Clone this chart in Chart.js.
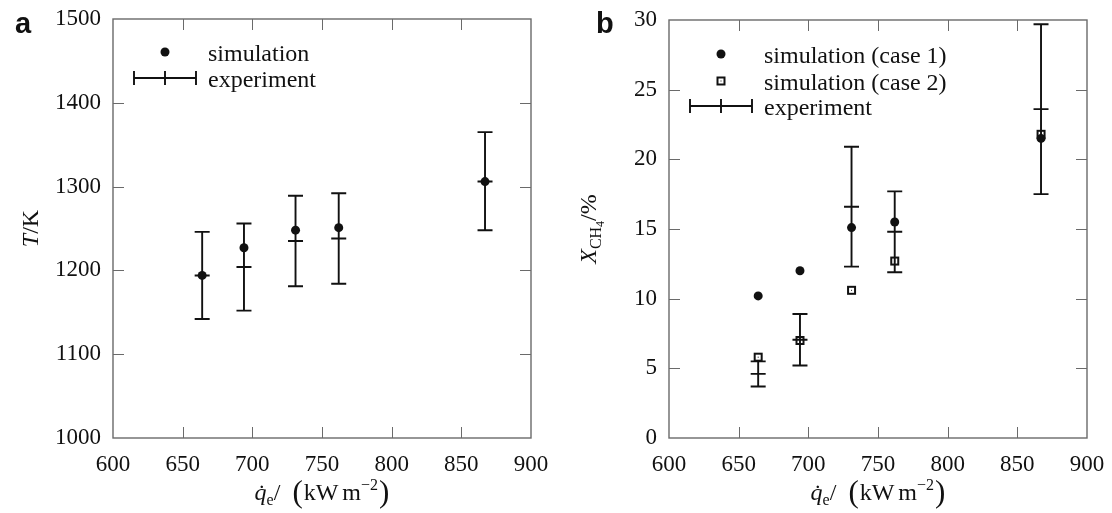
<!DOCTYPE html>
<html>
<head>
<meta charset="utf-8">
<script src="https://cdn.jsdelivr.net/npm/chart.js@4.4.1/dist/chart.umd.min.js"></script>
<style>
  html, body { margin: 0; padding: 0; background: #fff; }
  #wrap { position: relative; width: 1112px; height: 513px; }
  .panel { position: absolute; top: 0; width: 556px; height: 513px; }
  #pa { left: 0; }
  #pb { left: 556px; }
</style>
</head>
<body>
<div id="wrap">
  <div class="panel" id="pa"><canvas id="chartA"></canvas></div>
  <div class="panel" id="pb"><canvas id="chartB"></canvas></div>
</div>
<script>
// heat flux of the five operating points, kW/m2
const heatFlux = [664, 694, 731, 762, 867];

// panel a: temperature, K
const simTemp = [1194, 1227, 1248, 1251, 1306];
const expTemp = [1194, 1204, 1235, 1238, 1306];
const expTempLow = [1142, 1152, 1181, 1184, 1248];
const expTempHigh = [1246, 1256, 1289, 1292, 1365];

// panel b: methane conversion, %
const simCase1 = [10.2, 12.0, 15.1, 15.5, 21.5];
const simCase2 = [5.8, 7.0, 10.6, 12.7, 21.8];
const expConv = [4.6, 7.05, 16.6, 14.8, 23.6];
const expConvLow = [3.7, 5.2, 12.3, 11.9, 17.5];
const expConvHigh = [5.5, 8.9, 20.9, 17.7, 29.7];

const xTicks = [600, 650, 700, 750, 800, 850, 900];

const SERIF = "'Liberation Serif', 'DejaVu Serif', serif";
const INK = '#111';
const FRAME = '#6a6a6a';

// hollow square with a small centre dot, used as point style
function squareMarker() {
  const c = document.createElement('canvas');
  c.width = 11; c.height = 11;
  const g = c.getContext('2d');
  g.fillStyle = INK;
  g.fillRect(1, 1, 9, 9);
  g.clearRect(2.6, 2.6, 5.8, 5.8);
  g.fillRect(5, 5, 1, 1);
  return c;
}
const squareImg = squareMarker();

// draws text pieces one after another (subscripts etc.)
function richWidth(ctx, parts) {
  let w = 0;
  parts.forEach(p => { ctx.font = p.font; w += ctx.measureText(p.t).width + (p.gap || 0); });
  return w;
}
function drawRich(ctx, parts, x, y) {
  let cx = x - richWidth(ctx, parts) / 2;
  parts.forEach(p => {
    ctx.font = p.font;
    ctx.fillText(p.t, cx, y + (p.dy || 0));
    cx += ctx.measureText(p.t).width + (p.gap || 0);
  });
}

function errorBar(ctx, x, yLow, yMid, yHigh, cap) {
  ctx.beginPath();
  ctx.moveTo(x, yLow); ctx.lineTo(x, yHigh);
  ctx.moveTo(x - cap, yLow); ctx.lineTo(x + cap, yLow);
  ctx.moveTo(x - cap, yHigh); ctx.lineTo(x + cap, yHigh);
  ctx.moveTo(x - cap, yMid); ctx.lineTo(x + cap, yMid);
  ctx.stroke();
}

function makeDecor(cfg) {
  return {
    id: 'decor',
    beforeDatasetsDraw(chart) {
      const ctx = chart.ctx;
      const xs = chart.scales.x, ys = chart.scales.y;
      ctx.save();
      ctx.strokeStyle = INK;
      ctx.lineWidth = 1.9;
      cfg.mean.forEach((m, i) => {
        errorBar(ctx, xs.getPixelForValue(heatFlux[i]),
          ys.getPixelForValue(cfg.low[i]), ys.getPixelForValue(m),
          ys.getPixelForValue(cfg.high[i]), 7.5);
      });
      ctx.restore();
    },
    afterDraw(chart) {
      const ctx = chart.ctx;
      const a = chart.chartArea;
      const xs = chart.scales.x, ys = chart.scales.y;
      ctx.save();
      // frame with inward ticks
      ctx.strokeStyle = FRAME;
      ctx.lineWidth = 1.4;
      ctx.strokeRect(a.left, a.top, a.right - a.left, a.bottom - a.top);
      ctx.lineWidth = 1;
      ctx.beginPath();
      xs.ticks.forEach(t => {
        if (t.value <= xs.min || t.value >= xs.max) return;
        const px = Math.round(xs.getPixelForValue(t.value)) + 0.5;
        ctx.moveTo(px, a.bottom); ctx.lineTo(px, a.bottom - 11);
        ctx.moveTo(px, a.top); ctx.lineTo(px, a.top + 11);
      });
      ys.ticks.forEach(t => {
        if (t.value <= ys.min || t.value >= ys.max) return;
        const py = Math.round(ys.getPixelForValue(t.value)) + 0.5;
        ctx.moveTo(a.left, py); ctx.lineTo(a.left + 11, py);
        ctx.moveTo(a.right, py); ctx.lineTo(a.right - 11, py);
      });
      ctx.stroke();

      // legend
      ctx.fillStyle = INK;
      ctx.strokeStyle = INK;
      ctx.textBaseline = 'middle';
      ctx.textAlign = 'left';
      cfg.legend.forEach(item => {
        const y = item.y;
        if (item.kind === 'circle') {
          ctx.beginPath(); ctx.arc(165, y, 4.5, 0, Math.PI * 2); ctx.fill();
        } else if (item.kind === 'square') {
          ctx.drawImage(squareImg, 159.5, y - 5.5);
        } else {
          ctx.lineWidth = 1.9;
          ctx.beginPath();
          ctx.moveTo(134, y); ctx.lineTo(196, y);
          ctx.moveTo(134, y - 7); ctx.lineTo(134, y + 7);
          ctx.moveTo(196, y - 7); ctx.lineTo(196, y + 7);
          ctx.moveTo(165, y - 7); ctx.lineTo(165, y + 7);
          ctx.stroke();
        }
        ctx.font = '24px ' + SERIF;
        ctx.fillText(item.text, 208, y + 3);
      });

      // panel letter
      ctx.textBaseline = 'alphabetic';
      ctx.font = "bold 29px 'Liberation Sans', Arial, sans-serif";
      ctx.fillText(cfg.letter, cfg.letterX, 33);

      // x title
      const f = '24px ' + SERIF, fs = '16px ' + SERIF, fp = '31px ' + SERIF;
      drawRich(ctx, [
        { t: 'q\u0307', font: 'italic ' + f },
        { t: 'e', font: fs, dy: 5 },
        { t: '/', font: f, gap: 12 },
        { t: '(', font: fp, dy: 2, gap: 1 },
        { t: 'kW', font: f, gap: 4 },
        { t: 'm', font: f },
        { t: '\u22122', font: fs, dy: -10, gap: 1 },
        { t: ')', font: fp, dy: 2 }
      ], (a.left + a.right) / 2, 500);

      // y title, rotated
      ctx.translate(cfg.yTitleX, (a.top + a.bottom) / 2);
      ctx.rotate(-Math.PI / 2);
      drawRich(ctx, cfg.yTitle, 0, 8);
      ctx.restore();
    }
  };
}

function axes(yMin, yMax, yStep) {
  const tickFont = { family: SERIF, size: 23 };
  return {
    x: {
      type: 'linear', min: 600, max: 900,
      afterBuildTicks: s => { s.ticks = xTicks.map(v => ({ value: v })); },
      ticks: { color: INK, font: tickFont, padding: 13, maxRotation: 0, callback: v => String(v) },
      grid: { display: false, drawTicks: false },
      border: { display: false },
      afterFit: s => { s.height = 75; s.paddingLeft = 0; s.paddingRight = 0; }
    },
    y: {
      type: 'linear', min: yMin, max: yMax,
      ticks: { color: INK, font: tickFont, padding: 12, stepSize: yStep, callback: v => String(v) },
      grid: { display: false, drawTicks: false },
      border: { display: false },
      afterFit: s => { s.width = 113; s.paddingTop = 0; s.paddingBottom = 0; }
    }
  };
}

const pts = (xs, ys) => xs.map((x, i) => ({ x: x, y: ys[i] }));

new Chart(document.getElementById('chartA'), {
  type: 'scatter',
  data: {
    datasets: [{
      label: 'simulation',
      data: pts(heatFlux, simTemp),
      pointStyle: 'circle', pointRadius: 4.5, pointHoverRadius: 4.5,
      backgroundColor: INK, borderColor: INK, borderWidth: 0
    }]
  },
  options: {
    responsive: true, maintainAspectRatio: false, animation: false,
    layout: { padding: { top: 19, right: 25, left: 0, bottom: 0 } },
    plugins: { legend: { display: false }, tooltip: { enabled: false } },
    scales: axes(1000, 1500, 100)
  },
  plugins: [makeDecor({
    letter: 'a', letterX: 15, yTitleX: 30,
    mean: expTemp, low: expTempLow, high: expTempHigh,
    legend: [
      { kind: 'circle', text: 'simulation', y: 52 },
      { kind: 'err', text: 'experiment', y: 78 }
    ],
    yTitle: [
      { t: 'T', font: 'italic 24px ' + SERIF },
      { t: '/K', font: '24px ' + SERIF }
    ]
  })]
});

new Chart(document.getElementById('chartB'), {
  type: 'scatter',
  data: {
    datasets: [{
      label: 'simulation (case 1)',
      data: pts(heatFlux, simCase1),
      pointStyle: 'circle', pointRadius: 4.5, pointHoverRadius: 4.5,
      backgroundColor: INK, borderColor: INK, borderWidth: 0
    }, {
      label: 'simulation (case 2)',
      data: pts(heatFlux, simCase2),
      pointStyle: squareImg
    }]
  },
  options: {
    responsive: true, maintainAspectRatio: false, animation: false,
    layout: { padding: { top: 20, right: 25, left: 0, bottom: 0 } },
    plugins: { legend: { display: false }, tooltip: { enabled: false } },
    scales: axes(0, 30, 5)
  },
  plugins: [makeDecor({
    letter: 'b', letterX: 40, yTitleX: 32,
    mean: expConv, low: expConvLow, high: expConvHigh,
    legend: [
      { kind: 'circle', text: 'simulation (case 1)', y: 54 },
      { kind: 'square', text: 'simulation (case 2)', y: 81 },
      { kind: 'err', text: 'experiment', y: 106 }
    ],
    yTitle: [
      { t: 'X', font: 'italic 24px ' + SERIF },
      { t: 'CH', font: '16px ' + SERIF, dy: 5 },
      { t: '4', font: '12px ' + SERIF, dy: 8 },
      { t: '/%', font: '24px ' + SERIF }
    ]
  })]
});
</script>
</body>
</html>
